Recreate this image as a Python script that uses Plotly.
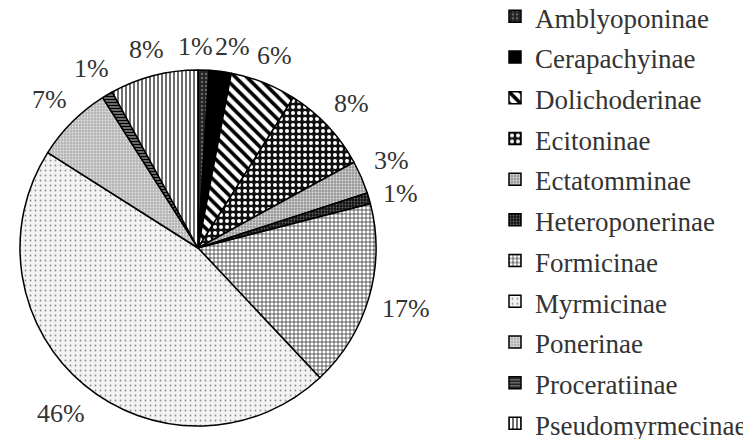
import math
import plotly.graph_objects as go

# ---- data ----
subfamilies = ["Amblyoponinae", "Cerapachyinae", "Dolichoderinae", "Ecitoninae",
               "Ectatomminae", "Heteroponerinae", "Formicinae", "Myrmicinae",
               "Ponerinae", "Proceratiinae", "Pseudomyrmecinae"]
percent = [1, 2, 6, 8, 3, 1, 17, 46, 7, 1, 8]
pct_labels = [f"{v}%" for v in percent]

# ---- styles (fill patterns per slice) ----
shapes = [".", "", "\\", ".", ".", ".", "+", ".", ".", "-", "|"]
bgcols = ["#222222", "#000000", "#ffffff", "#111111", "#9a9a9a", "#111111",
          "#ffffff", "#f3f3f3", "#b4b4b4", "#8a8a8a", "#ffffff"]
fgcols = ["#666666", "#000000", "#000000", "#ffffff", "#e2e2e2", "#6a6a6a",
          "#111111", "#8a8a8a", "#e6e6e6", "#000000", "#6e6e6e"]
sizes = [4, 6, 8, 6, 3, 3, 4, 5, 3, 3, 4]
solid = [0.3, 0.3, 0.45, 0.35, 0.3, 0.3, 0.3, 0.1, 0.3, 0.5, 0.5]

W, H = 751, 439
CX, CY, R = 190, 240, 178  # pie centre & radius in pixels
FONT = "Liberation Serif"
LBL_SIZE = 26

fig = go.Figure(go.Pie(
    labels=[f'<span style="font-size:27px">{s}</span>' for s in subfamilies],
    values=percent,
    sort=False,
    direction="clockwise",
    rotation=0,
    textinfo="none",
    hoverinfo="label+percent",
    marker=dict(
        colors=bgcols,
        line=dict(color="#000000", width=1.5),
        pattern=dict(shape=shapes, bgcolor=bgcols, fgcolor=fgcols,
                     size=sizes, solidity=solid, fillmode="replace"),
    ),
    domain=dict(x=[(CX - R) / W, (CX + R) / W],
                y=[(H - CY - R) / H, (H - CY + R) / H]),
    showlegend=True,
))

# ---- percentage labels outside each slice (best-fit style) ----
total = sum(percent)
GAP = 13
boxes = []
cum = 0.0
for v, lab in zip(percent, pct_labels):
    th = (cum + v / 2) / total * 2 * math.pi
    cum += v
    ndig = len(lab) - 1
    w = LBL_SIZE * (0.5 * ndig + 0.833)
    h = LBL_SIZE * 0.8
    s, c = math.sin(th), math.cos(th)
    ext = w / 2 * abs(s) + h / 2 * abs(c)
    r = R + GAP + ext
    boxes.append([CX + r * s, CY - r * c, w, LBL_SIZE * 1.2])

# simple repulsion between overlapping labels
for _ in range(80):
    moved = False
    for i in range(len(boxes)):
        for j in range(i + 1, len(boxes)):
            a, b = boxes[i], boxes[j]
            ox = (a[2] + b[2]) / 2 + 2 - abs(a[0] - b[0])
            oy = (a[3] + b[3]) / 2 + 2 - abs(a[1] - b[1])
            if ox > 0 and oy > 0:
                moved = True
                if ox < oy:
                    d = ox / 2 * (1 if a[0] >= b[0] else -1)
                    a[0] += d
                    b[0] -= d
                else:
                    d = oy / 2 * (1 if a[1] >= b[1] else -1)
                    a[1] += d
                    b[1] -= d
    if not moved:
        break

annotations = []
for (px, py, w, h), lab in zip(boxes, pct_labels):
    annotations.append(dict(
        x=px / W, y=1 - py / H, xref="paper", yref="paper",
        text=lab, showarrow=False, xanchor="center", yanchor="middle",
        font=dict(family=FONT, size=LBL_SIZE, color="#333333"),
    ))

fig.update_layout(
    width=W, height=H,
    margin=dict(l=0, r=0, t=0, b=0, autoexpand=False),
    paper_bgcolor="white",
    plot_bgcolor="white",
    annotations=annotations,
    legend=dict(
        x=487 / W, y=1 + 17 / H, xanchor="left", yanchor="top",
        font=dict(family=FONT, size=29, color="#333333"),
        itemwidth=30,
        maxheight=1000,
        bgcolor="rgba(0,0,0,0)",
    ),
)

fig.write_html("out.html")
